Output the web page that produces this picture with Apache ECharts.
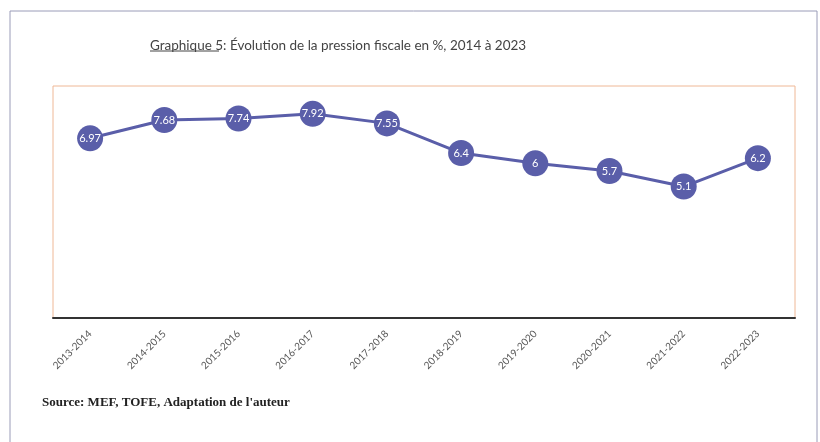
<!DOCTYPE html>
<html>
<head>
<meta charset="utf-8">
<script src="https://cdn.jsdelivr.net/npm/echarts@6/dist/echarts.min.js"></script>
<style>
  html, body { margin: 0; padding: 0; background: #fff; }
  #chart { width: 820px; height: 442px; }
</style>
</head>
<body>
<div id="chart"></div>
<script>
// données
var periodes = ["2013-2014", "2014-2015", "2015-2016", "2016-2017", "2017-2018",
                "2018-2019", "2019-2020", "2020-2021", "2021-2022", "2022-2023"];
var pression = [6.97, 7.68, 7.74, 7.92, 7.55, 6.4, 6, 5.7, 5.1, 6.2];

var titre = "Évolution de la pression fiscale en %, 2014 à 2023";
var source = "Source: MEF, TOFE, Adaptation de l'auteur";

var myChart = echarts.init(document.getElementById("chart"));

var option = {
    backgroundColor: "#fff",
    animation: false,
    title: {
        text: "{u|Graphique 5}: " + titre,
        left: 145,
        top: 34,
        textStyle: {
            fontFamily: "Lato",
            fontSize: 13.5,
            fontWeight: "normal",
            color: "#444",
            rich: {
                u: { fontFamily: "Lato", fontSize: 13.5, color: "#444" }
            }
        }
    },
    grid: {
        left: 53,
        right: 25,
        top: 86,
        bottom: 124,
        show: true,
        borderColor: "#efb896",
        borderWidth: 1
    },
    xAxis: {
        type: "category",
        data: periodes,
        boundaryGap: true,
        axisLine: { lineStyle: { color: "#333", width: 2 } },
        axisTick: { show: false },
        axisLabel: {
            rotate: 45,
            margin: 14,
            fontFamily: "Lato",
            fontSize: 10,
            color: "#555"
        }
    },
    yAxis: {
        type: "value",
        min: 0,
        max: 9,
        show: false
    },
    series: [
        {
            name: "Pression fiscale",
            type: "line",
            data: pression,
            symbol: "circle",
            symbolSize: 26,
            itemStyle: { color: "#5a5ea9" },
            lineStyle: { color: "#5a5ea9", width: 3 },
            label: {
                show: true,
                position: "inside",
                color: "#fff",
                fontFamily: "Lato",
                fontSize: 11
            }
        }
    ],
    graphic: [
        // cadre extérieur
        {
            type: "rect",
            shape: { x: 10, y: 11, width: 807, height: 445 },
            style: { fill: null, stroke: "#9a9cb8", lineWidth: 1 }
        },
        // soulignement de "Graphique 5"
        {
            type: "line",
            shape: { x1: 150, y1: 51, x2: 219, y2: 51 },
            style: { stroke: "#444", lineWidth: 1 }
        },
        {
            type: "text",
            left: 42,
            top: 396,
            style: {
                text: source,
                fontFamily: "Liberation Serif",
                fontSize: 13,
                fontWeight: "bold",
                fill: "#222"
            }
        }
    ]
};

myChart.setOption(option);
</script>
</body>
</html>
